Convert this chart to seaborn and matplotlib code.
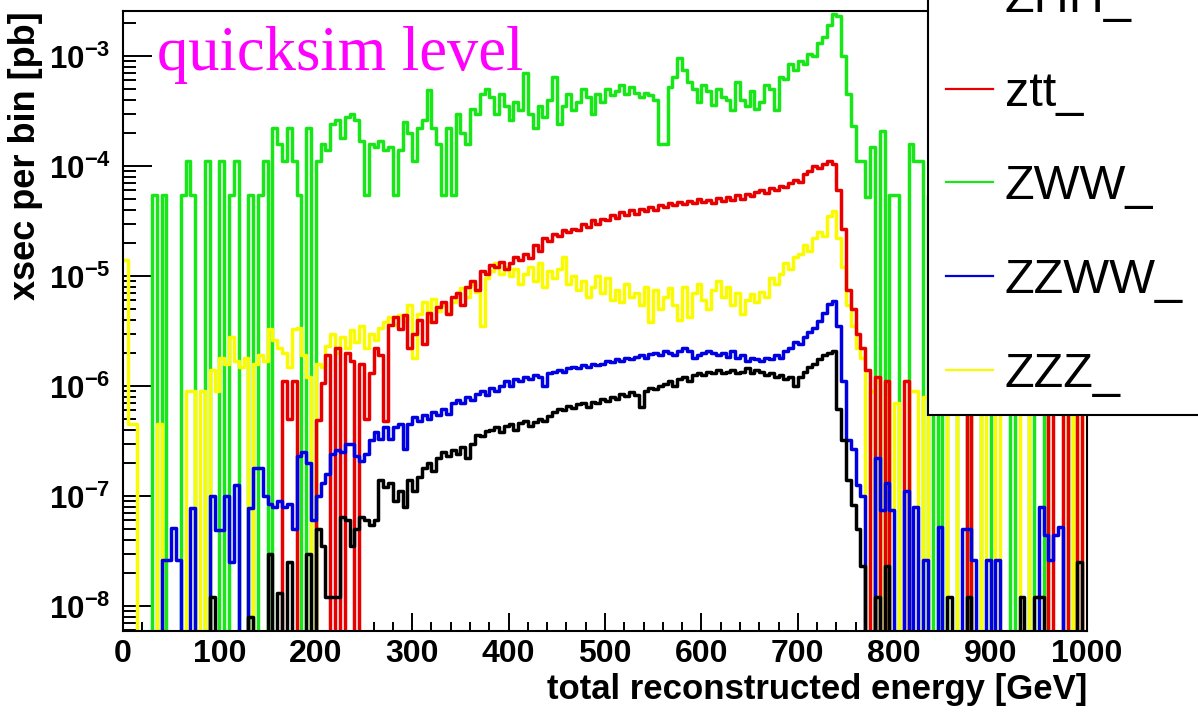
import numpy as np
import pandas as pd
import matplotlib
matplotlib.use("Agg")
import matplotlib.pyplot as plt
from matplotlib.lines import Line2D
from matplotlib.ticker import FuncFormatter, MultipleLocator, LogLocator, NullFormatter
import seaborn as sns

# ---------------- data (xsec per 5 GeV bin, pb) ----------------
bin_width = 5.0
energy_edges = np.arange(0, 1000 + bin_width, bin_width)   # 0..1000 GeV, 200 bins

zhh_xsec = [
    0,0,0,0,0,0,0,0,0,0,
    0,0,0,0,0,0,0,0,1.2e-8,0,
    0,0,0,0,0,0,8e-9,0,0,0,
    3e-8,0,1.3e-8,0,2.5e-8,0,0,0,3e-8,0,
    5e-8,3.5e-8,1.2e-8,1.2e-8,1.2e-8,6.5e-8,6e-8,3.5e-8,5e-8,6.5e-8,
    6e-8,5.5e-8,6e-8,1.4e-7,1.2e-7,1.3e-7,9e-8,1.1e-7,8e-8,1.4e-7,
    1.1e-7,1.5e-7,1.8e-7,2.0e-7,1.7e-7,2.2e-7,2.5e-7,2.3e-7,2.6e-7,2.4e-7,
    2.8e-7,2.2e-7,3.0e-7,3.6e-7,3.5e-7,3.9e-7,4.0e-7,4.2e-7,3.8e-7,4.3e-7,
    4.5e-7,4.0e-7,4.6e-7,4.8e-7,4.3e-7,4.7e-7,5.0e-7,4.8e-7,5.3e-7,5.8e-7,
    6.2e-7,6.0e-7,6.6e-7,6.3e-7,6.8e-7,7.0e-7,6.5e-7,7.2e-7,7.0e-7,7.6e-7,
    7.3e-7,8.0e-7,7.6e-7,8.4e-7,8.1e-7,8.8e-7,8.3e-7,6.5e-7,9.0e-7,9.5e-7,
    9.3e-7,1.0e-6,1.05e-6,1.1e-6,1.0e-6,1.15e-6,1.2e-6,1.1e-6,1.25e-6,1.3e-6,
    1.25e-6,1.35e-6,1.3e-6,1.4e-6,1.3e-6,1.35e-6,1.4e-6,1.3e-6,1.35e-6,1.45e-6,
    1.3e-6,1.4e-6,1.35e-6,1.25e-6,1.3e-6,1.2e-6,1.25e-6,1.15e-6,1.2e-6,1.0e-6,
    1.2e-6,1.35e-6,1.5e-6,1.6e-6,1.75e-6,1.9e-6,2.0e-6,2.1e-6,6.2e-7,3.2e-7,
    1.4e-7,8.3e-8,5e-8,2.3e-8,0,0,1.2e-8,0,2.3e-8,0,
    0,0,0,0,0,0,0,0,0,0,
    0,1.2e-8,0,0,0,1.2e-8,0,0,0,0,
    0,0,0,0,0,0,1.2e-8,0,0,1.2e-8,
    1.2e-8,0,0,0,0,0,0,0,2.5e-8,0,
]

ztt_xsec = [
    0,0,0,0,0,0,0,0,0,0,
    0,0,0,0,0,0,0,0,0,0,
    0,0,0,0,0,0,0,0,0,0,
    0,0,0,1.1e-6,5e-7,1.1e-6,0,0,0,0,
    4.9e-7,1.07e-6,1.9e-6,0,2.2e-6,0,2.0e-6,1.7e-6,0,1.6e-6,
    5e-7,1.3e-6,2.2e-6,1.9e-6,4.8e-7,3.6e-6,4.2e-6,3.3e-6,4.4e-6,2.2e-6,
    3.0e-6,4.0e-6,2.4e-6,4.6e-6,3.8e-6,5.2e-6,5.8e-6,4.5e-6,6.5e-6,7.0e-6,
    5.5e-6,8.0e-6,9.0e-6,7.5e-6,1.1e-5,1.05e-5,1.25e-5,1.2e-5,1.35e-5,1.15e-5,
    1.3e-5,1.5e-5,1.4e-5,1.6e-5,1.45e-5,1.9e-5,1.7e-5,2.2e-5,2.1e-5,2.4e-5,
    2.3e-5,2.6e-5,2.5e-5,2.7e-5,2.6e-5,3.0e-5,2.8e-5,3.2e-5,3.0e-5,3.3e-5,
    3.2e-5,3.6e-5,3.4e-5,3.8e-5,3.6e-5,4.0e-5,3.7e-5,4.1e-5,3.9e-5,4.2e-5,
    4.0e-5,4.4e-5,4.2e-5,4.6e-5,4.4e-5,4.7e-5,4.5e-5,4.8e-5,4.6e-5,5.0e-5,
    4.7e-5,4.9e-5,4.6e-5,5.1e-5,4.8e-5,5.2e-5,4.9e-5,5.4e-5,5.0e-5,5.6e-5,
    5.3e-5,5.8e-5,6.0e-5,5.7e-5,6.3e-5,6.0e-5,6.6e-5,6.4e-5,7.0e-5,7.5e-5,
    7.2e-5,8.5e-5,9.0e-5,1.0e-4,9.5e-5,1.05e-4,1.1e-4,1.05e-4,6e-5,2.7e-5,
    7.5e-6,5e-6,3e-6,2.2e-6,1.4e-6,0,1.2e-6,0,1.1e-6,0,
    0,0,1.1e-6,0,0,0,0,0,0,0,
    0,0,0,0,0,1e-6,0,0,0,0,
    0,0,0,0,0,0,0,0,0,0,
    0,0,1e-6,0,0,1e-6,0,0,1e-6,0,
]

zww_xsec = [
    0,0,0,0,0,0,5.5e-5,0,5.5e-5,0,
    0,0,5.5e-5,1.1e-4,5.5e-5,0,0,1.1e-4,0,0,
    1.1e-4,0,5.5e-5,1.1e-4,0,0,5.5e-5,0,5.5e-5,1.1e-4,
    0,2.2e-4,1.6e-4,1.1e-4,2.2e-4,1.1e-4,5.5e-5,0,2.2e-4,0,
    1.1e-4,1.6e-4,1.4e-4,2.4e-4,2.6e-4,1.8e-4,2.8e-4,3.0e-4,2.6e-4,1.7e-4,
    5.5e-5,1.6e-4,1.5e-4,1.7e-4,1.4e-4,1.5e-4,5.5e-5,1.4e-4,2.5e-4,2.0e-4,
    1.1e-4,2.2e-4,2.6e-4,4.9e-4,2.2e-4,1.6e-4,5.5e-5,2.2e-4,5.5e-5,3.0e-4,
    2.0e-4,1.6e-4,3.3e-4,3.0e-4,4.5e-4,5.0e-4,4.2e-4,3.0e-4,4.5e-4,3.5e-4,
    2.6e-4,3.8e-4,3.2e-4,7.0e-4,3.0e-4,2.2e-4,3.5e-4,2.8e-4,4.0e-4,6.5e-4,
    2.4e-4,3.5e-4,4.5e-4,3.2e-4,3.8e-4,5.0e-4,4.2e-4,3.0e-4,4.5e-4,3.8e-4,
    5.0e-4,4.4e-4,4.8e-4,5.5e-4,4.5e-4,5.2e-4,4.6e-4,4.2e-4,4.6e-4,4.4e-4,
    4.0e-4,1.6e-4,1.6e-4,5.2e-4,6.5e-4,9.5e-4,7.5e-4,5.8e-4,5.0e-4,3.8e-4,
    5.5e-4,4.8e-4,3.6e-4,5.0e-4,4.2e-4,4.0e-4,3.2e-4,5.8e-4,4.0e-4,3.5e-4,
    4.8e-4,3.3e-4,3.8e-4,5.5e-4,5.0e-4,3.2e-4,6.5e-4,6.2e-4,8.5e-4,7.5e-4,
    9.0e-4,8.5e-4,1.05e-3,1.0e-3,1.3e-3,1.5e-3,1.9e-3,2.4e-3,2.3e-3,1.0e-3,
    4.5e-4,2.3e-4,1.1e-4,1.1e-4,5.2e-5,1.5e-4,0,2.1e-4,0,5.5e-5,
    5.5e-5,0,0,1.6e-4,1.1e-4,1.1e-4,0,5.5e-5,0,5.5e-5,
    0,5.5e-5,5.5e-5,0,0,5.5e-5,0,0,5.5e-5,5.5e-5,
    0,0,0,0,5.5e-5,0,0,0,5.5e-5,0,
    0,5.5e-5,0,0,0,0,5.5e-5,0,0,0,
]

zzww_xsec = [
    0,0,0,0,0,0,0,0,2.6e-8,2.6e-8,
    5.1e-8,2.6e-8,0,0,7.8e-8,0,0,0,1e-7,4.9e-8,
    4.9e-8,1e-7,2.5e-8,1.25e-7,0,0,7.8e-8,1.8e-7,1.8e-7,1e-7,
    8.5e-8,8e-8,9e-8,8e-8,8.5e-8,5e-8,2.3e-7,2.5e-7,2.0e-7,6e-8,
    1.0e-7,1.3e-7,1.6e-7,2.4e-7,2.6e-7,2.5e-7,3.0e-7,3.0e-7,2.3e-7,2.1e-7,
    2.4e-7,3.2e-7,3.8e-7,3.3e-7,4.2e-7,3.3e-7,4.2e-7,4.5e-7,2.7e-7,4.5e-7,
    5.2e-7,4.8e-7,5.5e-7,5.0e-7,5.8e-7,5.5e-7,6.2e-7,5.6e-7,7.0e-7,7.5e-7,
    7.0e-7,8.0e-7,7.5e-7,8.5e-7,9.0e-7,8.2e-7,9.5e-7,9.0e-7,1.0e-6,1.1e-6,
    1.0e-6,1.15e-6,1.1e-6,1.2e-6,1.15e-6,1.25e-6,1.2e-6,1.0e-6,1.3e-6,1.35e-6,
    1.4e-6,1.35e-6,1.45e-6,1.5e-6,1.45e-6,1.55e-6,1.5e-6,1.6e-6,1.55e-6,1.6e-6,
    1.7e-6,1.65e-6,1.75e-6,1.7e-6,1.8e-6,1.75e-6,1.85e-6,1.9e-6,1.8e-6,1.95e-6,
    2.0e-6,1.9e-6,2.1e-6,2.0e-6,1.9e-6,2.1e-6,2.2e-6,2.1e-6,1.8e-6,1.9e-6,
    2.0e-6,2.1e-6,2.0e-6,1.9e-6,2.0e-6,1.85e-6,2.1e-6,1.8e-6,1.9e-6,1.7e-6,
    1.8e-6,1.75e-6,1.7e-6,1.8e-6,1.75e-6,1.9e-6,1.8e-6,2.1e-6,2.2e-6,2.5e-6,
    2.4e-6,2.8e-6,3.1e-6,3.4e-6,3.9e-6,4.6e-6,5.6e-6,5.9e-6,3.5e-6,1.1e-6,
    3.2e-7,2.7e-7,1.25e-7,1e-7,0,0,2.2e-7,7.5e-8,1.3e-7,7.5e-8,
    0,0,1.1e-7,0,8e-8,0,2.6e-8,0,0,5.2e-8,
    0,0,0,0,5e-8,5e-8,2.6e-8,0,0,2.6e-8,
    0,2.6e-8,0,0,0,0,0,0,0,0,
    8e-8,4.4e-8,2.6e-8,4.4e-8,5.2e-8,0,0,0,0,0,
]

zzz_xsec = [
    1.4e-5,4.5e-7,4.5e-7,0,0,0,0,4.5e-7,0,0,
    0,0,0,9e-7,9e-7,0,9e-7,0,1.4e-6,9e-7,
    1.8e-6,1.6e-6,2.8e-6,1.7e-6,1.5e-6,1.8e-6,0,1.6e-6,1.9e-6,1.7e-6,
    3.3e-6,2.6e-6,2.2e-6,2.0e-6,1.5e-6,3.3e-6,3.4e-6,1.9e-6,1.2e-6,0,
    1.6e-6,1.5e-6,2.3e-6,3.0e-6,2.0e-6,2.8e-6,2.2e-6,3.2e-6,2.5e-6,3.5e-6,
    2.2e-6,3.0e-6,2.6e-6,3.4e-6,3.8e-6,4.2e-6,3.6e-6,4.4e-6,3.9e-6,5.5e-6,
    1.8e-6,4.5e-6,5.8e-6,3.8e-6,6.2e-6,4.8e-6,5.5e-6,4.6e-6,5.8e-6,7.0e-6,
    7.8e-6,6.5e-6,8.5e-6,7.2e-6,3.5e-6,9.5e-6,1.1e-5,1.3e-5,1.05e-5,1.2e-5,
    1.0e-5,1.15e-5,8.5e-6,1.05e-5,1.2e-5,9e-6,1.3e-5,8e-6,1.1e-5,9.5e-6,
    1.15e-5,1.5e-5,8.5e-6,1.0e-5,7.5e-6,9e-6,6.5e-6,8e-6,1.0e-5,7.0e-6,
    9.5e-6,6.0e-6,7.5e-6,5.8e-6,8.5e-6,6.5e-6,7.0e-6,5.5e-6,8.0e-6,3.8e-6,
    7.5e-6,5.0e-6,6.5e-6,7.8e-6,5.5e-6,4.0e-6,8.0e-6,4.2e-6,7.0e-6,8.5e-6,
    6.0e-6,5.0e-6,7.5e-6,9.0e-6,6.5e-6,8.0e-6,5.5e-6,7.0e-6,4.5e-6,6.0e-6,
    6.8e-6,5.8e-6,7.2e-6,6.5e-6,9.5e-6,8.5e-6,1.05e-5,1.3e-5,1.15e-5,1.5e-5,
    1.6e-5,1.9e-5,1.7e-5,2.2e-5,2.5e-5,2.3e-5,3.5e-5,3.9e-5,2.2e-5,1.2e-5,
    5.5e-6,3.5e-6,2.2e-6,1.8e-6,0,9e-7,1.1e-6,0,8e-7,0,
    7e-7,0,0,9e-7,9e-7,0,8e-7,0,0,0,
    0,8e-7,9e-7,0,0,0,0,0,8e-7,0,
    0,9e-7,0,0,0,0,8e-7,8e-7,0,0,
    0,0,0,0,0,0,8e-7,0,9e-7,0,
]

legend_labels = ["ZHH_", "ztt_", "ZWW_", "ZZWW_", "ZZZ_"]
series = {"ZHH_": zhh_xsec, "ztt_": ztt_xsec, "ZWW_": zww_xsec,
          "ZZWW_": zzww_xsec, "ZZZ_": zzz_xsec}
colors = {"ZHH_": "#000000", "ztt_": "#e80000", "ZWW_": "#18e618",
          "ZZWW_": "#0000e0", "ZZZ_": "#fafa00"}
draw_order = ["ZWW_", "ZZZ_", "ztt_", "ZZWW_", "ZHH_"]

x_ticks = [0, 100, 200, 300, 400, 500, 600, 700, 800, 900, 1000]

# ---------------- figure ----------------
W, H = 1198, 716
fig = plt.figure(figsize=(W / 100, H / 100), dpi=100)
plt.rcParams["mathtext.fontset"] = "custom"
plt.rcParams["mathtext.bf"] = "Liberation Sans:bold"
plt.rcParams["mathtext.rm"] = "Liberation Sans:bold"

ax_l, ax_r, ax_t, ax_b = 123, 1087, 11, 631
ax = fig.add_axes([ax_l / W, 1 - ax_b / H, (ax_r - ax_l) / W, (ax_b - ax_t) / H])

for name in draw_order:
    vals = list(series[name])
    df = pd.DataFrame({"energy": energy_edges, "xsec": vals + [vals[-1]]})
    sns.lineplot(data=df, x="energy", y="xsec", ax=ax, color=colors[name],
                 lw=2.5, drawstyle="steps-post", estimator=None, sort=False,
                 legend=False)

ax.set_yscale("log", nonpositive="clip")
ax.set_xlim(0, 1000)
ax.set_ylim(10 ** -8.227, 10 ** -2.591)

ax.set_xticks(x_ticks)
ax.xaxis.set_minor_locator(MultipleLocator(20))
ax.yaxis.set_major_locator(LogLocator(base=10, numticks=20))
ax.yaxis.set_minor_locator(LogLocator(base=10, subs=np.arange(2, 10), numticks=50))
ax.yaxis.set_minor_formatter(NullFormatter())
ax.yaxis.set_major_formatter(FuncFormatter(
    lambda v, p: r"$\mathbf{10^{%d}}$" % int(round(np.log10(v)))))

ax.tick_params(axis="x", which="major", direction="in", length=13, width=1.4,
               labelsize=23, pad=6, top=False)
ax.tick_params(axis="x", which="minor", direction="in", length=6.5, width=1.4, top=False)
ax.tick_params(axis="y", which="major", direction="in", length=21, width=1.4,
               labelsize=22.5, pad=9, right=False)
ax.tick_params(axis="y", which="minor", direction="in", length=9.5, width=1.4, right=False)
for lab in ax.get_xticklabels():
    lab.set_fontfamily("Liberation Sans")
    lab.set_fontweight("bold")

for sp in ax.spines.values():
    sp.set_linewidth(1.5)
    sp.set_color("black")

ax.set_xlabel("total reconstructed energy [GeV]", fontsize=25, fontweight="bold",
              family="Liberation Sans", loc="right")
ax.xaxis.set_label_coords(1.0, -0.068)
ax.set_ylabel("xsec per bin [pb]", fontsize=26, fontweight="bold",
              family="Liberation Sans", loc="top")
ax.yaxis.set_label_coords(-0.083, 1.0)

fig.text(157 / W, 1 - 70 / H, "quicksim level", color="#ff00ff",
         family="Liberation Serif", fontsize=45, va="baseline", ha="left")

# legend box: lower-left corner at (928, 415) px; it runs past the top/right canvas edges
handles = [Line2D([], [], color=colors[n], lw=1.6) for n in legend_labels]
leg = ax.legend(handles, legend_labels, loc="lower left", mode="expand",
                bbox_to_anchor=(928 / W, 1 - 415 / H, 340 / W, 0.0),
                bbox_transform=fig.transFigure,
                borderaxespad=0, borderpad=0.38, handlelength=0.95, handletextpad=0.25,
                labelspacing=1.0, fancybox=False, framealpha=1, edgecolor="black",
                prop={"family": "Liberation Sans", "size": 35})
leg.get_frame().set_linewidth(1.5)

fig.savefig("out.png", dpi=100)
